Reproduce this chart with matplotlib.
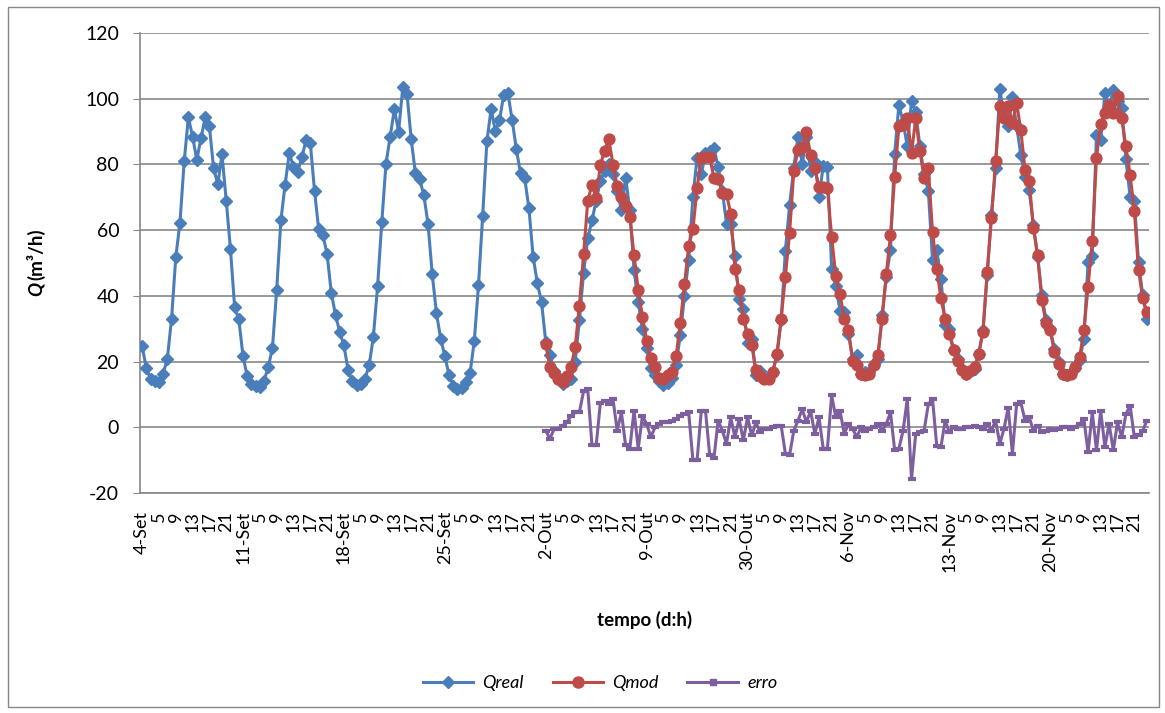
import numpy as np
import matplotlib
matplotlib.use("Agg")
import matplotlib.pyplot as plt
from matplotlib.lines import Line2D
from matplotlib.patches import Rectangle

plt.rcParams['font.family'] = ['Lato', 'DejaVu Sans']
plt.rcParams['axes.unicode_minus'] = False

days = ['4-Set', '11-Set', '18-Set', '25-Set', '2-Out', '9-Out', '30-Out', '6-Nov', '13-Nov', '20-Nov']
hour_labels = ['5', '9', '13', '17', '21']

# Qreal, 24 hourly values per day
q_real = [
    24.6, 18, 14.7, 14.2, 13.7, 16.3, 20.9, 33, 51.7, 62.3, 80.9, 94.3, 88.5, 81.4, 88, 94.3, 91.6, 78.8, 74, 83.1, 69, 54.4, 36.6, 32.8,
    21.6, 15.5, 13.2, 12.7, 12.2, 14.2, 18.3, 24.2, 41.7, 63, 73.8, 83.4, 79.3, 77.8, 82.2, 87.5, 86.5, 72, 60.2, 58.5, 52.6, 40.9, 34.1, 29,
    24.9, 17.3, 14, 13, 13.2, 14.8, 18.8, 27.5, 42.9, 62.4, 80.2, 88.5, 96.8, 90, 103.6, 101.5, 87.7, 77.3, 75.5, 70.7, 61.9, 46.6, 34.8, 27,
    21.7, 15.8, 12.7, 11.7, 12, 13.7, 16.5, 26.2, 43.2, 64.4, 87, 96.8, 90.2, 93.4, 101.2, 101.7, 93.6, 84.7, 77.3, 75.8, 66.6, 51.9, 43.9, 38.1,
    26, 22, 17, 15.3, 13.2, 14, 14.8, 20, 32.5, 47, 57.5, 63, 69, 75, 78, 80, 77, 72, 66, 76, 66, 48, 38, 30,
    24, 18, 16, 14, 13, 13.5, 15, 19, 28, 40, 51, 70, 82, 77, 83.4, 84, 85, 79.3, 72, 62, 62, 52, 39, 36,
    25.5, 27, 16, 17, 15.3, 15.3, 16.8, 22, 32.6, 53.8, 67.5, 79, 88.5, 80, 88.5, 78, 80.8, 70.2, 79.5, 79.2, 48.3, 43, 35.5, 35.1,
    28.5, 20.8, 22.1, 16.1, 16.8, 16.8, 18.8, 20.9, 34.1, 45.6, 54, 83.3, 98.1, 93, 85.5, 99.2, 96, 85.5, 77, 72, 50.9, 53.9, 45.2, 31.1,
    30, 23.4, 20.8, 17.8, 16.1, 17, 17.8, 22.4, 29.5, 46.3, 64.6, 78.9, 102.9, 94.6, 91.7, 100.6, 91.7, 82.9, 76.3, 72.1, 61.5, 51.9, 40.2, 32.7,
    30, 23.7, 19.8, 16.3, 15.8, 16.6, 18.1, 20.4, 27, 50.3, 52.2, 89.1, 87.4, 101.6, 97.2, 102.6, 99.4, 97.1, 81.5, 70.2, 68.9, 50.3, 40.2, 33.1,
]

# Qmod, from 2-Out on
q_mod = [
    25.2, 18.3, 16.5, 14.8, 13.7, 15.5, 18.3, 24.4, 37, 52.6, 69, 73.8, 69.8, 79.9, 84.1, 87.8, 79.9, 73.4, 70.2, 67.3, 64.1, 52.4, 41.9, 33.6,
    26.4, 21.2, 18.3, 15, 14.8, 15.8, 16.8, 21.6, 31.7, 43.5, 55.2, 60.2, 72.7, 81.9, 82.2, 82.2, 76, 75.5, 71.4, 71, 65, 48.3, 41.7, 33.1,
    28.5, 24.9, 17.3, 15.5, 14.8, 14.8, 16.8, 22.4, 33.1, 45.8, 59, 78, 84.4, 85.2, 90, 82.9, 78.8, 73.2, 73, 72.7, 58, 46, 40.5, 33.1,
    29.5, 20.3, 19.1, 16.1, 15.8, 16.3, 18.8, 21.9, 33.1, 46.6, 58.5, 76.3, 91.6, 92, 94.1, 83.4, 94, 84, 76, 79, 59.5, 48.3, 39.2, 33.1,
    28.5, 23.4, 20.3, 17.3, 16.1, 17, 18.3, 22.4, 29, 47.3, 63.6, 80.9, 97.9, 94.1, 97.7, 92.6, 98.7, 90.5, 78.3, 75.1, 60.5, 52.4, 38.7, 31.7,
    29.5, 22.9, 19.3, 16.3, 15.8, 16.1, 18.3, 21.4, 29.5, 42.7, 56.8, 82.1, 92.4, 95.6, 98.2, 95.6, 100.9, 94.1, 85.5, 76.8, 65.9, 47.8, 39.2, 35.1,
]

# erro, from 2-Out on
erro = [
    -1, -3.5, -0.5, -0.5, 0.5, 1.5, 3.5, 4.5, 4.5, 11, 11.5, -5.5, -5.5, 7.5, 8, 7, 8.5, -1, 4.5, -5.5, -6.5, 5, -6.5, 3.5,
    1, -3, 0, 1, 1.5, 1.5, 2, 2.5, 3.5, 4, 4.5, -10, -10, 5, 5, -8.5, -9.5, 2, -1, -5, 3, -3, 2.5, -4,
    3, -2.5, 1.5, -1.5, -0.5, -0.5, 0, 0.5, 0.5, -8, -8.5, -1, 2, 5.5, 1.5, 5, -2, 3, -6.5, -6.5, 9.7, 3, 5, -2,
    1, -0.5, -3, 0, -1, -0.5, 0, 1, -1, 1, 4.5, -7, -6.5, -1, 8.6, -15.8, -2, -1.5, -1, 7, 8.6, -5.6, -6, 2,
    -1.5, 0, -0.5, -0.5, 0, 0, 0.5, 0, -0.5, 1, -1, 2, -5, -0.5, 6, -8, 7, 7.6, 2, 3, -1, 0.5, -1.5, -1,
    -0.5, -0.8, -0.5, 0, 0, -0.5, 0.2, 1, 2.5, -7.6, 4.6, -7, 5, -6, 1, -7, 1.5, -3, 4, 6.6, -3, -2.5, -1, 2,
]

n = len(q_real)
x = np.arange(n)
x_mod = np.arange(n - len(q_mod), n)

tick_pos = np.arange(0, n, 4)
tick_lab = []
for d in days:
    tick_lab += [d] + hour_labels

blue = '#4A7EBB'
red = '#BE4B48'
purple = '#7D5FA0'
grid_c = '#878787'

fig = plt.figure(figsize=(11.65, 7.13), dpi=100)
fig.patches.append(Rectangle((0.007, 0.008), 0.988, 0.982, transform=fig.transFigure,
                             fill=False, edgecolor='#888888', linewidth=1))
ax = fig.add_axes([0.1202, 0.3086, 0.8661, 0.6451])

ax.plot(x, q_real, color=blue, lw=2.2, marker='D', ms=6.3, zorder=3)
ax.plot(x_mod, q_mod, color=red, lw=2.2, marker='o', ms=7.8, zorder=4)
ax.plot(x_mod, erro, color=purple, lw=2.2, marker='_', ms=6, mew=3, zorder=5)

ax.set_xlim(-0.5, n - 0.5)
ax.set_ylim(-20, 120)
ax.set_yticks(range(-20, 121, 20))
ax.grid(axis='y', color=grid_c, lw=1.2)
ax.set_axisbelow(True)
ax.set_xticks(tick_pos)
ax.set_xticklabels(tick_lab, rotation=90, fontsize=13)
ax.tick_params(axis='x', length=0, pad=13)
ax.tick_params(axis='y', length=5, color=grid_c, labelsize=14, pad=10)
for s in ['top', 'right']:
    ax.spines[s].set_visible(False)
for s in ['left', 'bottom']:
    ax.spines[s].set_color(grid_c)
    ax.spines[s].set_linewidth(1.2)

fig.text(0.031, 0.585, 'Q', rotation=90, fontsize=13.5, fontweight='bold', style='italic',
         ha='center', va='bottom')
fig.text(0.031, 0.607, '(m³/h)', rotation=90, fontsize=13.5, fontweight='bold',
         ha='center', va='bottom')
fig.text(0.553, 0.13, 'tempo (d:h)', fontsize=13.5, fontweight='bold', ha='center', va='center')

handles = [
    Line2D([], [], color=blue, lw=2.2, marker='D', ms=6.5),
    Line2D([], [], color=red, lw=2.2, marker='o', ms=8),
    Line2D([], [], color=purple, lw=2.2, marker='s', ms=5),
]
leg = fig.legend(handles, ['Qreal', 'Qmod', 'erro'], loc='center', bbox_to_anchor=(0.515, 0.042),
                 ncol=3, frameon=False, prop={'size': 13, 'style': 'italic'},
                 handlelength=2.8, columnspacing=1.6, handletextpad=0.5)

fig.savefig('out.png', dpi=100)
